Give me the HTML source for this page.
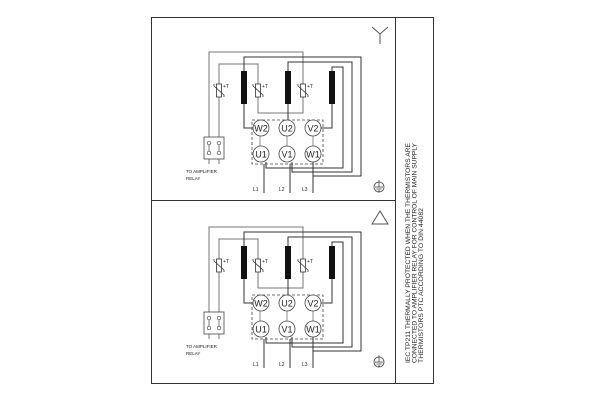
<!DOCTYPE html>
<html><head><meta charset="utf-8"><style>
html,body{margin:0;padding:0;background:#fff;}
svg{display:block;}
text{font-family:"Liberation Sans",sans-serif;fill:#222;}
</style></head><body>
<svg width="600" height="400" viewBox="0 0 600 400" xmlns="http://www.w3.org/2000/svg">
<defs>
<g id="panel">
  <!-- grey thermistor loop -->
  <g fill="none" stroke="#777" stroke-width="1">
    <polyline points="209,137 209,52 303,52 303,84"/>
    <polyline points="303,97 303,113 258,113 258,97"/>
    <polyline points="258,84 258,64 219,64 219,84"/>
    <polyline points="219,97 219,137"/>
    <line x1="209" y1="159" x2="209" y2="164"/>
    <line x1="219" y1="159" x2="219" y2="164"/>
  </g>
  <!-- black winding wires -->
  <g fill="none" stroke="#333" stroke-width="1">
    <polyline points="244,71 244,57 361,57 361,176 313,176 313,162"/>
    <polyline points="288,71 288,62 352,62 352,172 292,172 292,162"/>
    <polyline points="332,71 332,67 343,67 343,168 266,168 266,162"/>
    <polyline points="244,103 244,128 252,128"/>
    <polyline points="288,103 288,120"/>
    <polyline points="332,103 332,128 321,128"/>
    <line x1="264" y1="164" x2="264" y2="193"/>
    <line x1="290" y1="164" x2="290" y2="193"/>
    <line x1="313" y1="164" x2="313" y2="193"/>
  </g>
  <!-- resistors -->
  <rect x="241" y="71" width="6" height="33" fill="#111"/>
  <rect x="285" y="71" width="6" height="33" fill="#111"/>
  <rect x="329" y="71" width="6" height="33" fill="#111"/>
  <!-- thermistors -->
  <g fill="#fff" stroke="#333" stroke-width="0.8">
    <rect x="216.5" y="84" width="5" height="13"/>
    <rect x="255.5" y="84" width="5" height="13"/>
    <rect x="300.5" y="84" width="5" height="13"/>
  </g>
  <g stroke="#333" stroke-width="0.8">
    <polyline points="214,84 214,86 224,95 224,97" fill="none"/>
    <polyline points="253,84 253,86 263,95 263,97" fill="none"/>
    <polyline points="298,84 298,86 308,95 308,97" fill="none"/>
  </g>
  <text x="223" y="88" font-size="5">+T</text>
  <text x="262" y="88" font-size="5">+T</text>
  <text x="307" y="88" font-size="5">+T</text>
  <!-- terminal box -->
  <rect x="252" y="120" width="71" height="44" fill="none" stroke="#444" stroke-width="0.8" stroke-dasharray="3,2"/>
  <g stroke="#777" stroke-width="0.8">
    <line x1="260" y1="136" x2="260" y2="146"/>
    <line x1="287" y1="136" x2="287" y2="146"/>
    <line x1="313" y1="136" x2="313" y2="146"/>
  </g>
  <g fill="#fff" stroke="#444" stroke-width="0.8">
    <circle cx="261" cy="128" r="8"/><circle cx="287" cy="128" r="8"/><circle cx="313" cy="128" r="8"/>
    <circle cx="261" cy="154" r="8"/><circle cx="287" cy="154" r="8"/><circle cx="313" cy="154" r="8"/>
  </g>
  <g font-size="9" text-anchor="middle">
    <text x="261" y="131.5">W2</text><text x="287" y="131.5">U2</text><text x="313" y="131.5">V2</text>
    <text x="261" y="157.5">U1</text><text x="287" y="157.5">V1</text><text x="313" y="157.5">W1</text>
  </g>
  <!-- relay -->
  <rect x="204" y="137" width="20" height="22" fill="#fff" stroke="#444" stroke-width="0.8"/>
  <g fill="none" stroke="#444" stroke-width="0.7">
    <circle cx="209" cy="143" r="1.8"/><circle cx="219" cy="143" r="1.8"/>
    <circle cx="209" cy="153" r="1.8"/><circle cx="219" cy="153" r="1.8"/>
    <line x1="209" y1="145" x2="209" y2="151"/><line x1="219" y1="145" x2="219" y2="151"/>
  </g>
  <text x="186" y="173" font-size="4.5">TO AMPLIFIER</text>
  <text x="186" y="180" font-size="4.5">RELAY</text>
  <text x="253" y="191" font-size="5">L1</text>
  <text x="279" y="191" font-size="5">L2</text>
  <text x="302" y="191" font-size="5">L3</text>
  <!-- ground -->
  <g fill="none" stroke="#444" stroke-width="0.8">
    <circle cx="379" cy="187" r="5"/>
    <line x1="379" y1="180" x2="379" y2="187"/>
    <line x1="375" y1="187" x2="383" y2="187"/>
    <line x1="376.5" y1="189" x2="381.5" y2="189"/>
    <line x1="378" y1="191" x2="380" y2="191"/>
  </g>
</g>
</defs>
<!-- frame -->
<rect x="151.5" y="17.5" width="282" height="366" fill="none" stroke="#333" stroke-width="1"/>
<line x1="395.5" y1="17" x2="395.5" y2="384" stroke="#333"/>
<line x1="151" y1="200.5" x2="396" y2="200.5" stroke="#333"/>
<use href="#panel"/>
<use href="#panel" transform="translate(0,175)"/>
<!-- Y symbol -->
<g stroke="#555" stroke-width="1" fill="none">
  <line x1="380" y1="34" x2="380" y2="44"/>
  <line x1="380" y1="34" x2="372" y2="27"/>
  <line x1="380" y1="34" x2="388" y2="27"/>
  <polygon points="380,211 372,224 388,224"/>
</g>
<!-- rotated text -->
<g font-size="6">
  <text transform="translate(410,363) rotate(-90)" textLength="220" lengthAdjust="spacingAndGlyphs">IEC TP211 THERMALLY PROTECTED WHEN THE THERMISTORS ARE</text>
  <text transform="translate(416.5,363) rotate(-90)" textLength="220" lengthAdjust="spacingAndGlyphs">CONNECTED TO AMPLIFIER RELAY FOR CONTROL OF MAIN SUPPLY</text>
  <text transform="translate(423,363) rotate(-90)" textLength="155" lengthAdjust="spacingAndGlyphs">THERMISTORS PTC ACCORDING TO DIN 44082</text>
</g>
</svg>
</body></html>
